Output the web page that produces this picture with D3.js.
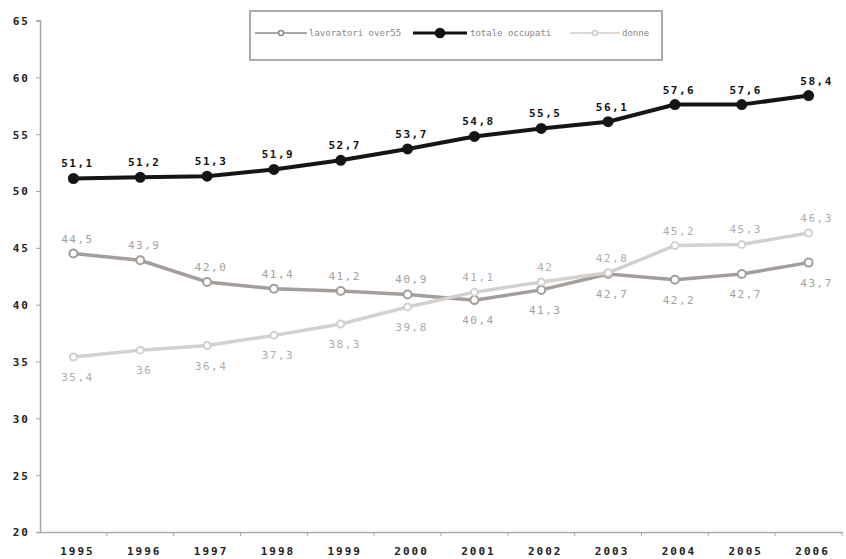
<!DOCTYPE html>
<html><head><meta charset="utf-8">
<script src="https://cdn.jsdelivr.net/npm/d3@7"></script>
<style>
html,body{margin:0;padding:0;background:#fff;}
svg{display:block;}
text{font-family:"DejaVu Sans Mono",monospace;}
</style></head>
<body>
<script>
const years = ["1995","1996","1997","1998","1999","2000","2001","2002","2003","2004","2005","2006"];
const over55 = [44.5,43.9,42.0,41.4,41.2,40.9,40.4,41.3,42.7,42.2,42.7,43.7];
const totale = [51.1,51.2,51.3,51.9,52.7,53.7,54.8,55.5,56.1,57.6,57.6,58.4];
const donne = [35.4,36.0,36.4,37.3,38.3,39.8,41.1,42,42.8,45.2,45.3,46.3];
const yTicks = [20,25,30,35,40,45,50,55,60,65];
const seriesNames = ["lavoratori over55","totale occupati","donne"];

const W=846,H=559;
const svg=d3.select("body").append("svg").attr("width",W).attr("height",H);
const x=d3.scaleBand().domain(years).range([40,842]);
const y=d3.scaleLinear().domain([20,65]).range([532,20.5]);
const cx=d=>x(d)+x.bandwidth()/2;
const fmtShort=v=>String(v).replace(".",",");
const fmtFixed=v=>v.toFixed(1).replace(".",",");

// axes
const yAxis=svg.append("g").attr("transform","translate(40,0)")
  .call(d3.axisLeft(y).tickValues(yTicks).tickSize(4).tickFormat(d=>d));
yAxis.select(".domain").attr("stroke","#a8a4a2").attr("stroke-width",1.5);
yAxis.selectAll(".tick line").attr("stroke","#a8a4a2");
yAxis.selectAll(".tick text").attr("x",-10).attr("font-size",11).attr("font-weight","bold")
  .attr("letter-spacing",2).attr("fill","#222").attr("dy","0.35em");

const xAxis=svg.append("g").attr("transform","translate(0,532)")
  .call(d3.axisBottom(x).tickSize(0).tickSizeOuter(0));
xAxis.select(".domain").attr("stroke","#b0a8a6").attr("stroke-width",1.5);
xAxis.selectAll(".tick text").attr("dx",4).attr("y",15).attr("font-size",11).attr("font-weight","bold")
  .attr("letter-spacing",2).attr("fill","#222");
svg.append("g").selectAll("line").data(years.slice(1).concat(["end"])).join("line")
  .attr("x1",d=>d==="end"?842:x(d)).attr("x2",d=>d==="end"?842:x(d))
  .attr("y1",532).attr("y2",536).attr("stroke","#b0a8a6");

const series=[
  {name:seriesNames[0],vals:over55,color:"#a49e9b",w:3.5,r:4,lab:"#a4a09e",bold:false,fmt:fmtFixed},
  {name:seriesNames[2],vals:donne,color:"#d4d0cd",w:3.5,r:3.5,lab:"#b0acaa",bold:false,fmt:fmtShort},
  {name:seriesNames[1],vals:totale,color:"#151515",w:4,r:4.5,lab:"#111",bold:true,fmt:fmtFixed}
];
const line=d3.line().x((d,i)=>cx(years[i])).y(d=>y(d));
series.forEach(s=>{
  svg.append("path").datum(s.vals).attr("d",line).attr("fill","none")
    .attr("stroke",s.color).attr("stroke-width",s.w);
  svg.append("g").selectAll("circle").data(s.vals).join("circle")
    .attr("cx",(d,i)=>cx(years[i])).attr("cy",d=>y(d)).attr("r",s.r)
    .attr("fill",s.bold?s.color:"#fff").attr("stroke",s.color).attr("stroke-width",2);
});

const pos={
  "lavoratori over55":[-1,-1,-1,-1,-1,-1,1,1,1,1,1,1],
  "donne":[1,1,1,1,1,1,-1,-1,-1,-1,-1,-1],
  "totale occupati":[-1,-1,-1,-1,-1,-1,-1,-1,-1,-1,-1,-1]
};
series.forEach(s=>{
  svg.append("g").selectAll("text").data(s.vals).join("text")
    .attr("x",(d,i)=>cx(years[i])+(i===11?8:4))
    .attr("y",(d,i)=>y(d)+(pos[s.name][i]<0?-11:24))
    .attr("text-anchor","middle").attr("font-size",11)
    .attr("font-weight",s.bold?"bold":"normal").attr("letter-spacing",1.5)
    .attr("fill",s.lab).text(d=>s.fmt(d));
});

// legend
const lg=svg.append("g");
lg.append("rect").attr("x",250).attr("y",11).attr("width",412).attr("height",49)
  .attr("fill","#fff").attr("stroke","#b0aaa8").attr("stroke-width",2);
const items=[
  {name:seriesNames[0],x1:255,x2:307,tx:309,color:"#8c8886",w:1.5,r:2.5,fill:"#fff",tc:"#8a8684"},
  {name:seriesNames[1],x1:413,x2:467,tx:470,color:"#111",w:3,r:4.5,fill:"#111",tc:"#8a8684"},
  {name:seriesNames[2],x1:570,x2:620,tx:622,color:"#cfcbc8",w:1.5,r:2.5,fill:"#fff",tc:"#8a8684"}
];
items.forEach(it=>{
  lg.append("line").attr("x1",it.x1).attr("x2",it.x2).attr("y1",33).attr("y2",33)
    .attr("stroke",it.color).attr("stroke-width",it.w);
  lg.append("circle").attr("cx",(it.x1+it.x2)/2).attr("cy",33).attr("r",it.r)
    .attr("fill",it.fill).attr("stroke",it.color).attr("stroke-width",1.5);
  lg.append("text").attr("x",it.tx).attr("y",36).attr("font-size",9)
    .attr("font-family","Liberation Sans, sans-serif").attr("fill",it.tc).text(it.name);
});
</script>
</body></html>
